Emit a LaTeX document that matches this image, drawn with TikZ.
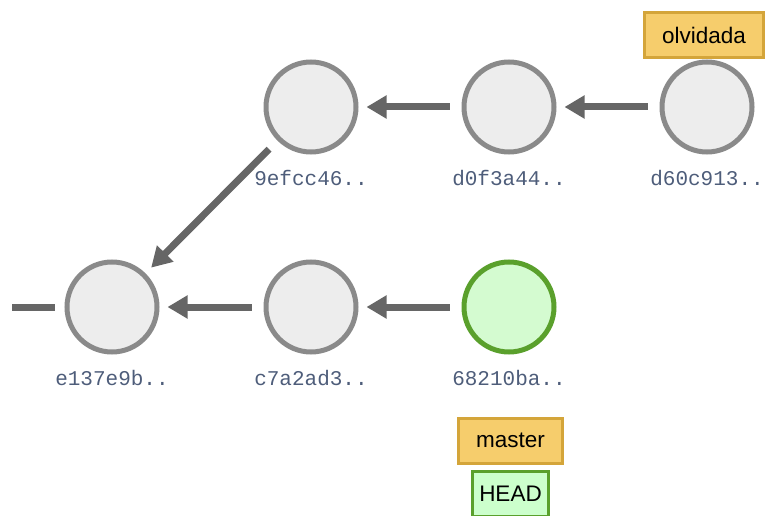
\documentclass[tikz,border=0pt]{standalone}
\usepackage{fontspec}
\setmainfont{Liberation Sans}
\newfontfamily\hashfont{Liberation Mono}
\usetikzlibrary{arrows.meta}
\definecolor{cfill}{HTML}{EDEDED}
\definecolor{cline}{HTML}{8A8A8A}
\definecolor{aline}{HTML}{666666}
\definecolor{gfill}{HTML}{D4FBD0}
\definecolor{gline}{HTML}{5AA02C}
\definecolor{ofill}{HTML}{F6CD6C}
\definecolor{oline}{HTML}{D4A53A}
\definecolor{hfill}{HTML}{CCFFCC}
\definecolor{hashc}{HTML}{4E5D7A}
\tikzset{
  commit/.style={circle, draw=cline, fill=cfill, line width=5pt, minimum size=90pt, inner sep=0pt},
  headcommit/.style={commit, draw=gline, fill=gfill},
  hashlbl/.style={font=\hashfont\fontsize{21}{21}\selectfont, text=hashc, inner sep=0pt},
  branch/.style={draw=oline, fill=ofill, line width=3pt, font=\fontsize{22.5}{22.5}\selectfont, inner sep=0pt, minimum height=45pt},
  headlbl/.style={draw=gline, fill=hfill, line width=3pt, font=\fontsize{22.5}{22.5}\selectfont, inner sep=0pt, minimum height=45pt},
  parent/.style={draw=aline, line width=7pt, -{Triangle[length=20pt,width=22pt]}, shorten <=12pt, shorten >=8pt},
}
\begin{document}
\begin{tikzpicture}[x=1pt,y=-1pt]
\useasboundingbox (0,0) rectangle (768,516);
\node[commit] (e137) at (112,307) {};
\node[commit] (c7a2) at (311,307) {};
\node[headcommit] (6821) at (509,307) {};
\node[commit] (9efc) at (311,107) {};
\node[commit] (d0f3) at (509,107) {};
\node[commit] (d60c) at (707,107) {};
\node[hashlbl] (l1) at (112,378) {e137e9b..};
\node[hashlbl] (l2) at (311,378) {c7a2ad3..};
\node[hashlbl] (l3) at (509,378) {68210ba..};
\node[hashlbl] (l4) at (311,178) {9efcc46..};
\node[hashlbl] (l5) at (509,178) {d0f3a44..};
\node[hashlbl] (l6) at (707,178) {d60c913..};
\coordinate (stub) at (12,307);
\draw[draw=aline, line width=7pt, shorten >=10pt] (stub) -- (e137);
\draw[parent] (c7a2) -- (e137);
\draw[parent] (6821) -- (c7a2);
\draw[parent] (9efc) -- (e137);
\draw[parent] (d0f3) -- (9efc);
\draw[parent] (d60c) -- (d0f3);
\node[branch, minimum width=119pt] (olv) at (704,35) {olvidada};
\node[branch, minimum width=104pt] (mas) at (510.5,440.5) {master};
\node[headlbl, minimum width=76pt] (head) at (510.5,494) {HEAD};
\end{tikzpicture}
\end{document}
